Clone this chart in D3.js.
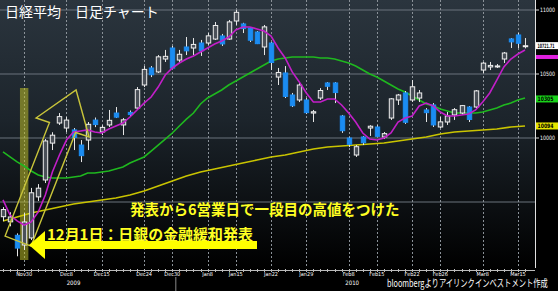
<!DOCTYPE html>
<html><head><meta charset="utf-8">
<script src="https://cdn.jsdelivr.net/npm/d3@7"></script>
<style>html,body{margin:0;padding:0;background:#000;}svg{display:block}</style>
</head><body><svg id="c" width="558" height="291"></svg>
<script>
// ---- data (index 0 = Nov 27 2009, first candle index -2) ----
const firstIndex = -2;
const opens  = [9385,9345,9240,9164,9219,9540,9672,9960,10117,10078,10063,9945,9984,10140,10047,10102,10195,10102,10200,10234,10414,10547,10516,10617,10703,10609,10711,10703,10742,10742,10773,10797,10773,10914,10891,10859,10828,10711,10742,10476,10508,10336,10297,10297,10195,10312,10430,10430,10172,10000,9867,10008,10078,10086,10008,10156,10297,10352,10297,10312,10219,10258,10086,10125,10180,10195,10242,10242,10531,10555,10555,10617,10774,10805,10715];
const highs  = [9460,9420,9255,9414,9610,9640,9992,10045,10195,10164,10078,9984,10125,10160,10100,10219,10242,10156,10215,10398,10562,10562,10648,10688,10719,10688,10789,10781,10766,10820,10906,10813,10922,11000,10900,10867,10836,10883,10750,10547,10562,10352,10437,10312,10219,10390,10437,10437,10180,10008,9945,10016,10100,10100,10047,10312,10344,10367,10453,10375,10234,10273,10164,10203,10234,10258,10250,10375,10594,10594,10578,10672,10781,10820,10781];
const lows   = [9350,9310,9076,9125,9203,9508,9648,9906,10102,10047,9906,9812,9906,10085,10023,10086,10156,10023,10165,10219,10398,10476,10508,10594,10539,10594,10648,10648,10641,10727,10766,10719,10766,10883,10820,10750,10734,10648,10531,10414,10312,10242,10281,10187,10125,10297,10375,10273,10040,9930,9852,9945,10016,10008,9992,10141,10258,10110,10281,10281,10125,10086,10078,10102,10141,10180,10125,10234,10508,10531,10547,10586,10703,10703,10700];
const closes = [9441,9383,9140,9344,9572,9608,9977,10022,10167,10140,10004,9862,10107,10105,10083,10138,10163,10142,10183,10378,10536,10494,10634,10638,10546,10654,10681,10731,10681,10798,10879,10735,10907,10982,10855,10764,10737,10868,10590,10512,10325,10252,10414,10198,10205,10371,10404,10355,10057,9951,9932,9963,10092,10013,10034,10306,10336,10123,10400,10352,10198,10102,10126,10172,10221,10253,10145,10368,10585,10567,10563,10664,10751,10740,10721];
const maShort = [9516,9398,9352,9320,9344,9422,9555,9734,9867,9984,10047,10055,10063,10047,10039,10070,10094,10117,10164,10219,10273,10320,10398,10492,10547,10586,10617,10641,10672,10703,10734,10758,10789,10844,10867,10867,10852,10836,10797,10703,10625,10516,10438,10352,10281,10281,10305,10305,10258,10195,10125,10039,9992,9984,10000,10039,10125,10156,10172,10250,10273,10250,10203,10172,10172,10180,10188,10219,10281,10352,10453,10555,10617,10656,10688];
const maMid = [9891,9852,9813,9781,9742,9711,9695,9688,9688,9688,9695,9703,9727,9727,9734,9742,9758,9773,9805,9828,9852,9898,9945,9992,10039,10094,10148,10195,10266,10313,10344,10375,10414,10445,10477,10508,10539,10570,10602,10617,10625,10633,10633,10633,10633,10625,10625,10617,10602,10586,10563,10531,10500,10477,10445,10414,10383,10359,10328,10297,10266,10250,10227,10211,10195,10195,10195,10195,10203,10219,10234,10258,10273,10297,10313];
const maLongIdx = [-2,0,2,4,6,8,10,12,14,16,18,20,22,24,26,28,30,32,34,36,38,40,42,44,46,48,50,52,54,56,58,60,62,64,66,68,70,72];
const maLong = [9352,9383,9414,9438,9461,9484,9500,9516,9531,9555,9586,9625,9664,9703,9734,9758,9781,9805,9828,9852,9867,9891,9914,9930,9938,9945,9953,9961,9977,9992,10008,10031,10047,10055,10063,10070,10086,10094];
const xTickIdx = [1,7,12,18,22,27,31,36,41,47,51,56,60,66,71];
const xTickLabels = ["Nov30","Dec8","Dec15","Dec24","Dec30","Jan8","Jan15","Jan22","Jan29","Feb8","Feb15","Feb22","Feb26","Mar8","Mar15"];
const yearIdx = [8, 47.5];
const yearLabels = ["2009","2010"];
const yGridVals = [11000,10500,10000,9500];
const yLabelVals = [11000,10500,10000];
const lastPrice = "10721.71", lastShort = "10688", lastMid = "10305", lastLong = "10094";
const highlightIdx = 1;
const bigArrow = [[-1.70,9234],[4.59,10121],[2.69,10156],[8.36,10375],[10.2,10008],[8.30,10043],[1.98,9156]];

const W = 558, H = 291, PR = 535, PB = 268;
const x = d3.scaleLinear().domain([-2,72]).range([3,525]);
const y = d3.scaleLinear().domain([9000,11000]).range([266,10]);
const svg = d3.select('#c');
const defs = svg.append('defs');
const g = defs.append('linearGradient').attr('id','bg').attr('x1',0).attr('y1',0).attr('x2',0).attr('y2',1);
g.append('stop').attr('offset','0%').attr('stop-color','#2b353e');
g.append('stop').attr('offset','45%').attr('stop-color','#1c242b');
g.append('stop').attr('offset','100%').attr('stop-color','#000');
defs.append('clipPath').attr('id','pc').append('rect').attr('x',0).attr('y',0).attr('width',PR).attr('height',PB);

svg.append('rect').attr('width',W).attr('height',H).attr('fill','#000');
svg.append('rect').attr('width',PR).attr('height',PB).attr('fill','url(#bg)');

// place a text at (tx,ty) squeezed horizontally to a given width
function fitText(parent, tx, ty, txt, width, attrs){
  const t = parent.append('text').attr('x',0).attr('y',0).text(txt);
  Object.entries(attrs).forEach(([k,v])=>t.attr(k,v));
  const len = t.node().getComputedTextLength() || width;
  t.attr('transform',`translate(${tx},${ty}) scale(${Math.min(1,width/len)},1)`);
  return t;
}

const plot = svg.append('g').attr('clip-path','url(#pc)');
// grid
plot.selectAll('.hg').data(yGridVals).join('line')
  .attr('x1',0).attr('x2',PR).attr('y1',d=>y(d)).attr('y2',d=>y(d))
  .attr('stroke','#6a737c').attr('stroke-width',1);
plot.selectAll('.vg').data(xTickIdx).join('line')
  .attr('x1',d=>Math.round(x(d))+0.5).attr('x2',d=>Math.round(x(d))+0.5).attr('y1',0).attr('y2',PB)
  .attr('stroke','#8a9198').attr('stroke-width',1).attr('stroke-dasharray','2,2');

// highlight band
plot.append('rect').attr('x',x(highlightIdx)-4.2).attr('width',8.4).attr('y',88).attr('height',PB-88-8)
  .attr('fill','rgba(190,190,40,0.55)');

// moving averages
const idxs = opens.map((_,i)=>i+firstIndex);
const line = d3.line().x(d=>x(d[0])).y(d=>y(d[1]));
plot.append('path').datum(maLongIdx.map((d,i)=>[d,maLong[i]])).attr('d',line)
  .attr('fill','none').attr('stroke','#c9c400').attr('stroke-width',1.6);
plot.append('path').datum(idxs.map((d,i)=>[d,maMid[i]])).attr('d',line)
  .attr('fill','none').attr('stroke','#1fb81f').attr('stroke-width',1.6);

// candles
const cw = 4.4;
const candles = plot.selectAll('.cd').data(idxs.map((d,i)=>({i:d,o:opens[i],h:highs[i],l:lows[i],c:closes[i]}))).join('g');
candles.append('line').attr('x1',d=>Math.round(x(d.i))+0.5).attr('x2',d=>Math.round(x(d.i))+0.5)
  .attr('y1',d=>y(d.h)).attr('y2',d=>y(d.l)).attr('stroke','#e6e6e6').attr('stroke-width',1);
candles.append('rect').attr('x',d=>Math.round(x(d.i))+0.5-cw/2).attr('width',cw)
  .attr('y',d=>y(Math.max(d.o,d.c))).attr('height',d=>Math.max(1,Math.abs(y(d.o)-y(d.c))))
  .attr('fill',d=>d.c>=d.o?'#4a5058':'#1b8cf2')
  .attr('stroke',d=>d.c>=d.o?'#eeeeee':'#1b8cf2').attr('stroke-width',1);

plot.append('path').datum(idxs.map((d,i)=>[d,maShort[i]])).attr('d',line)
  .attr('fill','none').attr('stroke','#c21fc8').attr('stroke-width',1.6);

// big outline arrow
plot.append('path').datum(bigArrow).attr('d',d3.line().x(d=>x(d[0])).y(d=>y(d[1])).curve(d3.curveLinearClosed))
  .attr('fill','none').attr('stroke','#c8c43a').attr('stroke-width',1.4);

// right axis
const narrow = 'Liberation Sans Narrow, DejaVu Sans Condensed, sans-serif';
svg.append('line').attr('x1',PR+0.5).attr('x2',PR+0.5).attr('y1',0).attr('y2',PB).attr('stroke','#e0e0e0');
svg.selectAll('.yt').data(yLabelVals).join('line').attr('x1',PR).attr('x2',PR+4)
  .attr('y1',d=>y(d)).attr('y2',d=>y(d)).attr('stroke','#ddd');
yLabelVals.forEach(v=>fitText(svg, PR+5, y(v)+2.2, String(v), 15,
  {fill:'#fff','font-family':narrow,'font-size':6}));

function tag(val, txt, bg, fg, h, tl){
  svg.append('rect').attr('x',PR+1).attr('y',y(val)-h/2).attr('width',W-PR-1).attr('height',h).attr('fill',bg);
  if (tl > 0) fitText(svg, PR+2.5, y(val)+2.2, txt, tl,
    {fill:fg,'font-family':narrow,'font-size':6,'font-weight':'bold'});
}
tag(+lastPrice, lastPrice, '#ffffff', '#000', 7, 17);
tag(+lastShort - 55, lastShort, '#e020e0', '#fff', 4, 0);
tag(+lastMid, lastMid, '#19d219', '#000', 7, 16);
tag(+lastLong, lastLong, '#e6e600', '#000', 7, 16);

// x axis
svg.append('line').attr('x1',0).attr('x2',PR).attr('y1',PB+2.5).attr('y2',PB+2.5).attr('stroke','#bbb');
svg.selectAll('.xt').data(idxs).join('line').attr('x1',d=>Math.round(x(d))+0.5).attr('x2',d=>Math.round(x(d))+0.5)
  .attr('y1',PB+1).attr('y2',PB+4).attr('stroke','#bbb');
svg.selectAll('.xl').data(xTickIdx).join('text').attr('x',d=>x(d)).attr('y',PB+7.5)
  .attr('text-anchor','middle').text((d,i)=>xTickLabels[i]).attr('fill','#fff')
  .attr('font-family',narrow).attr('font-size',5.5);
svg.selectAll('.yr').data(yearIdx).join('text').attr('x',d=>x(d)).attr('y',PB+17)
  .attr('text-anchor','middle').text((d,i)=>yearLabels[i]).attr('fill','#fff')
  .attr('font-family',narrow).attr('font-size',6);
svg.append('line').attr('x1',x(22.5)).attr('x2',x(22.5)).attr('y1',PB+9).attr('y2',H).attr('stroke','#888');

// texts
const jp = '"Noto Sans CJK JP", sans-serif';
svg.append('text').attr('x',5).attr('y',17).text('日経平均　日足チャート').attr('fill','#fff')
  .attr('font-family',jp).attr('font-size',14);
svg.append('text').attr('x',130).attr('y',215).text('発表から6営業日で一段目の高値をつけた').attr('fill','#ffff22')
  .attr('font-family',jp).attr('font-size',14.5).attr('font-weight','bold');
fitText(svg, 47, 240, '12月1日：日銀の金融緩和発表', 206,
  {fill:'#ffff22','font-family':jp,'font-size':15,'font-weight':'bold'});
// yellow arrow
svg.append('rect').attr('x',43).attr('y',241).attr('width',214).attr('height',8).attr('fill','#ffff00');
svg.append('path').attr('d','M29,245 L45,231 L45,259 Z').attr('fill','#ffff00');

fitText(svg, 387, 287, 'bloombergよりアイリンクインベストメント作成', 161,
  {fill:'#fff','font-family':jp,'font-size':10});
</script></body></html>
